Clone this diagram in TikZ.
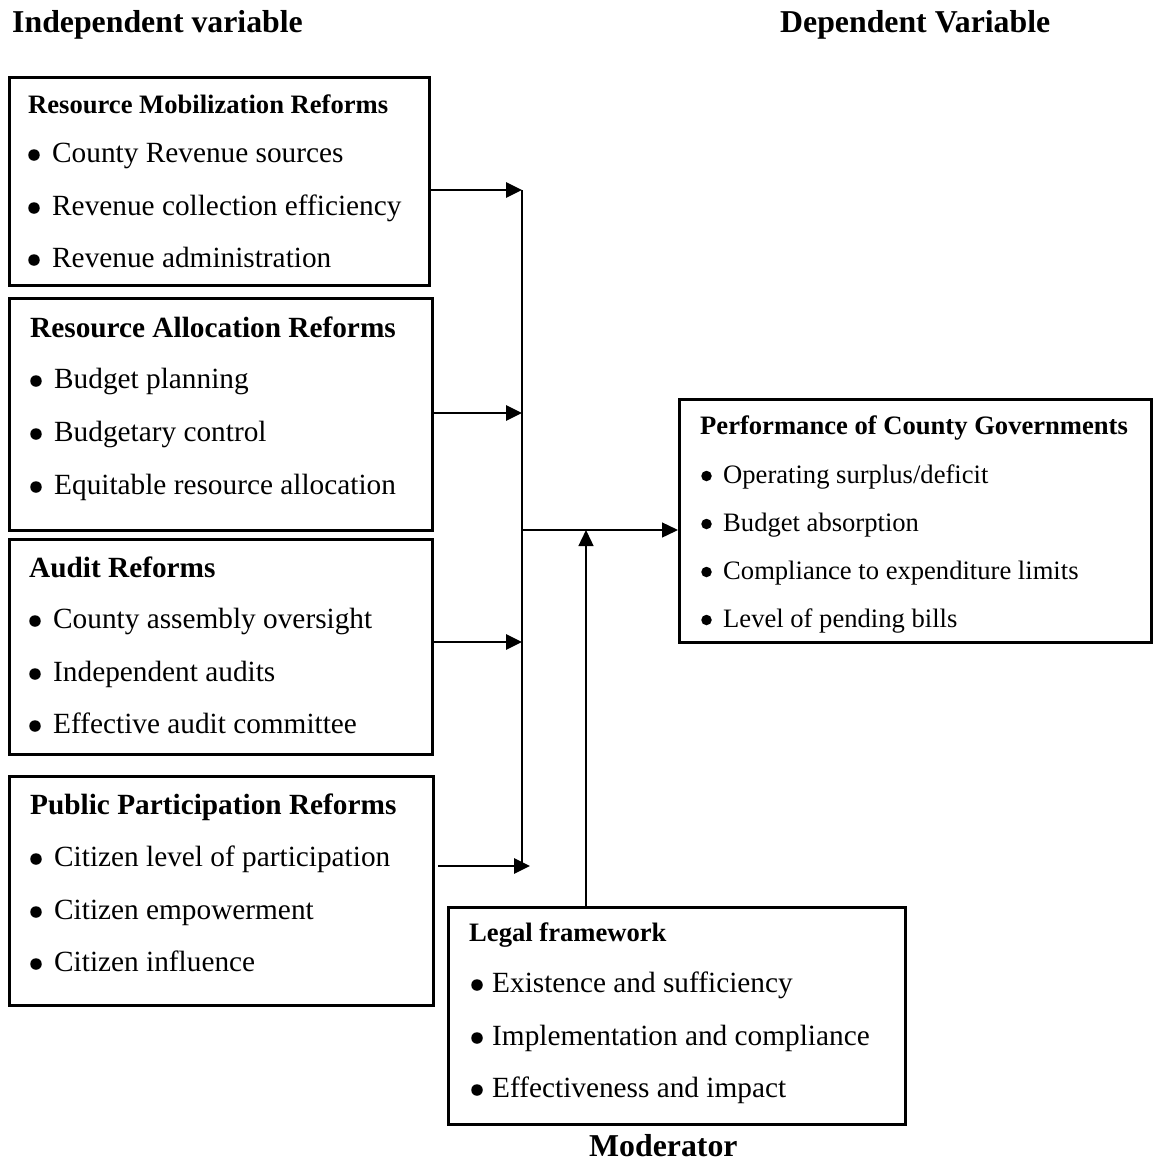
\documentclass[tikz,border=0pt]{standalone}
\usepackage{fontspec}
\setmainfont{Liberation Serif}
\usetikzlibrary{arrows.meta}

\newcommand\sizeL{\fontsize{29.3}{33}\selectfont}
\newcommand\sizeM{\fontsize{26.6}{30}\selectfont}
\newcommand\sizeH{\fontsize{31.8}{35}\selectfont}

% bullet item: name, bullet x, text x, baseline y, text style, text
\newcommand\bitem[6]{%
  \node[bul#5] (#1b) at (#2,#4-7) {};
  \node[#5] (#1) at (#3,#4) {#6};}

\tikzset{
  box/.style={draw, line width=2.6pt, anchor=north west, inner sep=0pt},
  hdL/.style={anchor=base west, inner sep=0pt, font=\bfseries\sizeL},
  hdM/.style={anchor=base west, inner sep=0pt, font=\bfseries\sizeM},
  ttl/.style={anchor=base west, inner sep=0pt, font=\bfseries\sizeH},
  itL/.style={anchor=base west, inner sep=0pt, font=\sizeL},
  itM/.style={anchor=base west, inner sep=0pt, font=\sizeM},
  bulitL/.style={circle, fill, inner sep=0pt, minimum size=11.5pt},
  bulitM/.style={circle, fill, inner sep=0pt, minimum size=10.5pt},
  feed/.style={line width=2.8pt, -{Triangle[length=16pt,width=15pt]}},
  thin/.style={line width=1.4pt},
  thinarrow/.style={line width=1.4pt, -{Triangle[length=16pt,width=15pt]}},
}

\begin{document}
\begin{tikzpicture}[x=1pt,y=-1pt]
  \useasboundingbox (0,0) rectangle (1153,1162);

  % column titles
  \node[ttl] (tind) at (12,32) {Independent variable};
  \node[ttl] (tdep) at (780,32) {Dependent Variable};
  \node[ttl] (tmod) at (589,1156) {Moderator};

  % independent variable boxes
  \node[box, minimum width=420pt, minimum height=208pt] (rm) at (8,76) {};
  \node[hdM] (rmh) at (28,113) {Resource Mobilization Reforms};
  \bitem{rm1}{34}{52}{162}{itL}{County Revenue sources}
  \bitem{rm2}{34}{52}{215}{itL}{Revenue collection efficiency}
  \bitem{rm3}{34}{52}{267}{itL}{Revenue administration}

  \node[box, minimum width=423pt, minimum height=232pt] (ra) at (8,297) {};
  \node[hdL] (rah) at (30,337) {Resource Allocation Reforms};
  \bitem{ra1}{36}{54}{388}{itL}{Budget planning}
  \bitem{ra2}{36}{54}{441}{itL}{Budgetary control}
  \bitem{ra3}{36}{54}{494}{itL}{Equitable resource allocation}

  \node[box, minimum width=423pt, minimum height=215pt] (au) at (8,538) {};
  \node[hdL] (auh) at (29,577) {Audit Reforms};
  \bitem{au1}{35}{53}{628}{itL}{County assembly oversight}
  \bitem{au2}{35}{53}{681}{itL}{Independent audits}
  \bitem{au3}{35}{53}{733}{itL}{Effective audit committee}

  \node[box, minimum width=424pt, minimum height=229pt] (pp) at (8,775) {};
  \node[hdL] (pph) at (30,814) {Public Participation Reforms};
  \bitem{pp1}{36}{54}{866}{itL}{Citizen level of participation}
  \bitem{pp2}{36}{54}{919}{itL}{Citizen empowerment}
  \bitem{pp3}{36}{54}{971}{itL}{Citizen influence}

  % dependent variable box
  \node[box, minimum width=472pt, minimum height=243pt] (pc) at (678,398) {};
  \node[hdM] (pch) at (700,434) {Performance of County Governments};
  \bitem{pc1}{706.5}{723}{483}{itM}{Operating surplus/deficit}
  \bitem{pc2}{706.5}{723}{531}{itM}{Budget absorption}
  \bitem{pc3}{706.5}{723}{579}{itM}{Compliance to expenditure limits}
  \bitem{pc4}{706.5}{723}{627}{itM}{Level of pending bills}

  % moderator box
  \node[box, minimum width=457pt, minimum height=217pt] (lf) at (447,906) {};
  \node[hdM] (lfh) at (469,941) {Legal framework};
  \bitem{lf1}{477}{492}{992}{itL}{Existence and sufficiency}
  \bitem{lf2}{477}{492}{1045}{itL}{Implementation and compliance}
  \bitem{lf3}{477}{492}{1097}{itL}{Effectiveness and impact}

  % junction points on the collector line
  \coordinate (j1) at (522,190);
  \coordinate (j2) at (522,413);
  \coordinate (j3) at (522,642);
  \coordinate (j4) at (530,866);
  \coordinate (s4) at (438,866);
  \coordinate (jc) at (522,530);
  \coordinate (jm) at (586,530);

  % arrows from the independent variables
  \draw[feed] (rm.east |- j1) -- (j1);
  \draw[feed] (ra.east |- j2) -- (j2);
  \draw[feed] (au.east |- j3) -- (j3);
  \draw[feed] (s4) -- (j4);

  % collector line and arrow to the dependent variable
  \draw[thin] (j1) -- (j1 |- j4);
  \draw[thinarrow] (jc) -- (pc.west |- jc);

  % moderator arrow
  \draw[thinarrow] (lf.north -| jm) -- (jm);
\end{tikzpicture}
\end{document}
